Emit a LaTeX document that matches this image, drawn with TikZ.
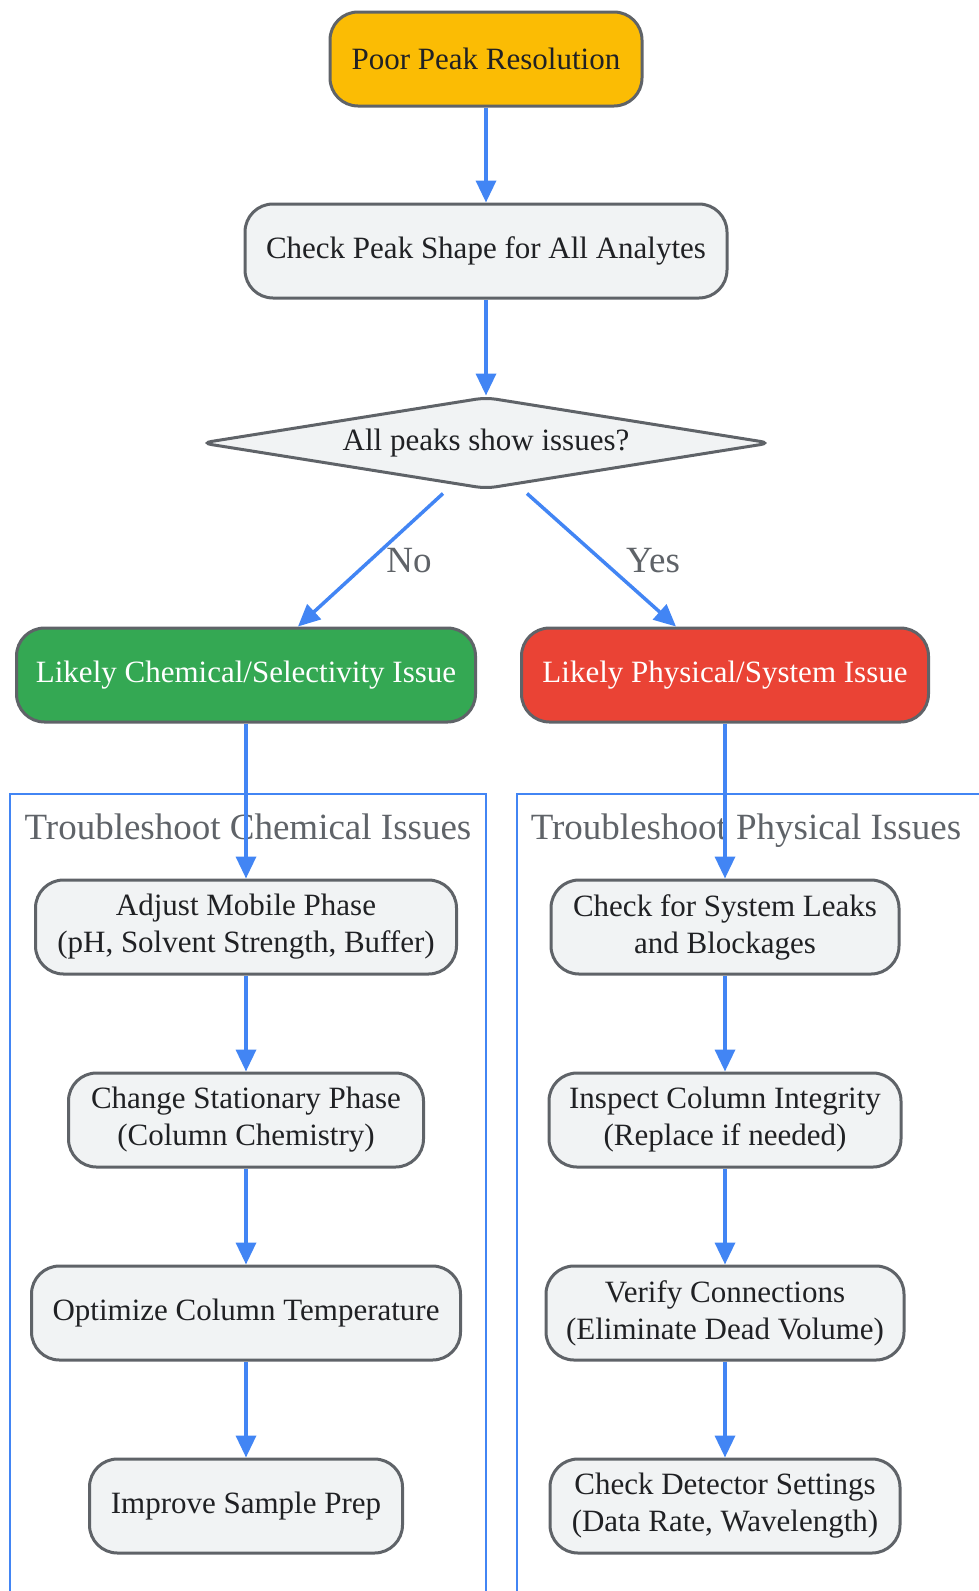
\documentclass[tikz,border=0pt]{standalone}
\usepackage{fontspec}
\setmainfont{Liberation Serif}
\usepackage{tikz}
\usetikzlibrary{arrows.meta, shapes.geometric}
\usepackage{xcolor}
\definecolor{edgegray}{HTML}{5F6368}
\definecolor{boxfill}{HTML}{F1F3F4}
\definecolor{flowblue}{HTML}{4285F4}
\definecolor{startyellow}{HTML}{FBBC04}
\definecolor{chemgreen}{HTML}{34A853}
\definecolor{physred}{HTML}{EA4335}
\definecolor{inktext}{HTML}{202124}

\tikzset{
	stepbox/.style={draw=edgegray, fill=boxfill, line width=3pt, rounded corners=28pt,
		minimum height=94pt, inner sep=0pt, align=center, text=inktext,
		font=\fontsize{31}{37}\selectfont},
	decision/.style={diamond, draw=edgegray, fill=boxfill, line width=3pt, rounded corners=10pt,
		aspect=6.2, minimum width=570pt, minimum height=92pt, inner sep=0pt, text=inktext,
		font=\fontsize{31}{37}\selectfont},
	flow/.style={draw=flowblue, line width=3.5pt, -{Triangle[length=22pt,width=20pt]}},
	cluster/.style={draw=flowblue, line width=2pt},
	lbl/.style={text=edgegray, inner sep=0pt, font=\fontsize{37}{44}\selectfont}
}

\begin{document}
\begin{tikzpicture}[x=1pt,y=-1pt]
				\useasboundingbox (0,0) rectangle (979,1591);
				\clip (0,0) rectangle (979,1591);
				% subgraph frames
				\draw[cluster] (10,794) rectangle (486,1620);
				\draw[cluster] (517,794) rectangle (1000,1620);
				\node[lbl, anchor=base] (chemtitle) at (248,839) {Troubleshoot Chemical Issues};
				\node[lbl, anchor=base] (phystitle) at (746,839) {Troubleshoot Physical Issues};
				% main line
				\node[stepbox, fill=startyellow, minimum width=312pt] (poor) at (486,59) {Poor Peak Resolution};
				\node[stepbox, minimum width=482pt] (shape) at (486,251) {Check Peak Shape for All Analytes};
				\node[decision] (peaks) at (486,443) {All peaks show issues?};
				\node[stepbox, fill=chemgreen, text=white, minimum width=459pt] (chem) at (246,675) {Likely Chemical/Selectivity Issue};
				\node[stepbox, fill=physred, text=white, minimum width=407pt] (phys) at (725,675) {Likely Physical/System Issue};
				% chemical side
				\node[stepbox, minimum width=421pt] (mobile) at (246,927) {Adjust Mobile Phase\\(pH, Solvent Strength, Buffer)};
				\node[stepbox, minimum width=355pt] (stationary) at (246,1120) {Change Stationary Phase\\(Column Chemistry)};
				\node[stepbox, minimum width=429pt] (temp) at (246,1313) {Optimize Column Temperature};
				\node[stepbox, minimum width=313pt] (prep) at (246,1506) {Improve Sample Prep};
				% physical side
				\node[stepbox, minimum width=348pt] (leaks) at (725,927) {Check for System Leaks\\and Blockages};
				\node[stepbox, minimum width=352pt] (column) at (725,1120) {Inspect Column Integrity\\(Replace if needed)};
				\node[stepbox, minimum width=358pt] (connect) at (725,1313) {Verify Connections\\(Eliminate Dead Volume)};
				\node[stepbox, minimum width=350pt] (detector) at (725,1506) {Check Detector Settings\\(Data Rate, Wavelength)};
				% connectors
				\draw[flow] (poor) -- (shape);
				\draw[flow] (shape) -- (peaks);
				\draw[flow] ([xshift=-43pt,yshift=-3pt]peaks.south) -- ([xshift=52pt]chem.north);
				\draw[flow] ([xshift=41pt,yshift=-3pt]peaks.south) -- ([xshift=-49pt]phys.north);
				\node[lbl] (nolbl) at (409,561) {No};
				\node[lbl] (yeslbl) at (653,561) {Yes};
				\draw[flow] (chem) -- (mobile);
				\draw[flow] (mobile) -- (stationary);
				\draw[flow] (stationary) -- (temp);
				\draw[flow] (temp) -- (prep);
				\draw[flow] (phys) -- (leaks);
				\draw[flow] (leaks) -- (column);
				\draw[flow] (column) -- (connect);
				\draw[flow] (connect) -- (detector);
			\end{tikzpicture}
\end{document}
